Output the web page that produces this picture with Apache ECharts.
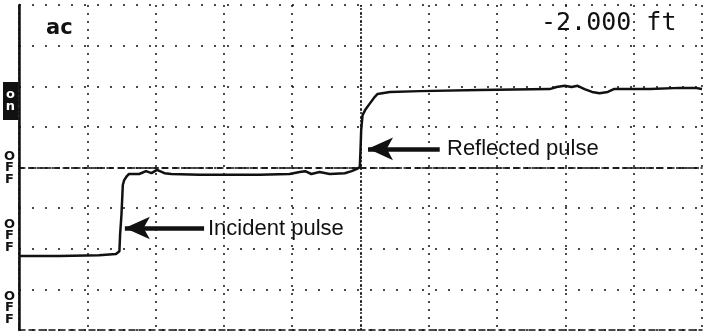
<!DOCTYPE html>
<html>
<head>
<meta charset="utf-8">
<script src="https://cdn.jsdelivr.net/npm/echarts@6/dist/echarts.min.js"></script>
<style>
  html, body { margin: 0; padding: 0; background: #fff; }
  #chart { width: 706px; height: 331px; }
</style>
</head>
<body>
<div id="chart"></div>
<script>
// ============================================================================
// Data (screen divisions: 10 across, 8 high, 0 at the centre line)
// ============================================================================

const traceX = [0, 0.59, 1.17, 1.42, 1.47, 1.48, 1.50, 1.51, 1.52, 1.54, 1.58,
    1.61, 1.76, 1.86, 1.94, 2.02, 2.13, 2.23, 2.64, 3.52, 3.96, 4.11, 4.19, 4.28,
    4.40, 4.55, 4.77, 4.87, 4.94, 4.99, 5.00, 5.01, 5.03, 5.07, 5.13, 5.21, 5.25,
    5.43, 5.87, 6.74, 7.77, 7.87, 7.99, 8.09, 8.18, 8.28, 8.39, 8.50, 8.62, 8.71,
    9.24, 9.68, 9.90, 10]
const traceY = [-2.18, -2.18, -2.16, -2.13, -2.06, -1.66, -1.17, -0.80, -0.43, -0.31, -0.21,
    -0.16, -0.16, -0.09, -0.14, -0.06, -0.14, -0.16, -0.18, -0.18, -0.16, -0.11, -0.09, -0.16,
    -0.11, -0.16, -0.14, -0.09, -0.04, 0.01, 0.43, 0.92, 1.29, 1.42, 1.56, 1.74, 1.81,
    1.86, 1.88, 1.91, 1.93, 1.98, 2.01, 1.98, 2.01, 1.93, 1.86, 1.83, 1.86, 1.93,
    1.93, 1.96, 1.96, 1.93]

const arrowLabels = ['Incident pulse', 'Reflected pulse']
const arrowTips = [[1.55, -1.49], [5.11, 0.46]]
const arrowTails = [[2.71, -1.49], [6.16, 0.46]]

const modeLabel = 'ac'
const distanceLabel = '-2.000 ft'
const channelLabels = ['o\nn', 'O\nF\nF', 'O\nF\nF', 'O\nF\nF']

// ============================================================================
// Helpers
// ============================================================================

const ink = '#111'

function _hiddenAxis(extra) {
    return {
        type: 'value',
        axisTick: {show: false},
        axisLabel: {show: false},
        splitLine: {show: false},
        ...extra,
    }
}

function _channelGraphics() {
    const out = [{
        type: 'rect',
        shape: {x: 3, y: 82, width: 15, height: 38},
        style: {fill: ink},
    }, {
        type: 'text', x: 10.5, y: 101,
        style: {text: channelLabels[0], fill: '#fff', font: 'bold 13px "DejaVu Sans"',
            lineHeight: 12, align: 'center', verticalAlign: 'middle'},
    }]
    const centres = [168, 236, 308]
    centres.forEach((c, i) => {
        out.push({
            type: 'text', x: 9.5, y: c,
            style: {text: channelLabels[i + 1], fill: ink, font: 'bold 13px "DejaVu Sans"',
                lineHeight: 11.5, align: 'center', verticalAlign: 'middle'},
        })
    })
    return out
}

// ============================================================================
// Render
// ============================================================================

function renderTrace() {
    const chart = echarts.init(document.getElementById('chart'))
    const arrowLines = arrowTips.map((tip, i) => [
        {coord: arrowTails[i], symbol: 'none'},
        {coord: tip, symbol: 'arrow', symbolSize: [17, 25]},
    ])
    const option = {
        animation: false,
        backgroundColor: '#fff',
        grid: {left: 19, right: 4, top: 5, bottom: 1},
        xAxis: [
            _hiddenAxis({
                min: 0, max: 10, interval: 1,
                axisLine: {onZero: false, lineStyle: {color: ink, width: 1.5, type: [6, 4]}},
                splitLine: {show: true, lineStyle: {color: ink, width: 1.5, type: [2, 6]}},
            }),
            _hiddenAxis({
                min: 0, max: 10, position: 'top',
                axisLine: {lineStyle: {color: ink, width: 1.5, type: [6, 5]}},
            }),
        ],
        yAxis: [
            _hiddenAxis({
                min: -4, max: 4, interval: 1,
                axisLine: {show: true, onZero: false, lineStyle: {color: ink, width: 2.5}},
                splitLine: {show: true, lineStyle: {color: ink, width: 1.5, type: [2, 11]}},
            }),
            _hiddenAxis({
                min: -4, max: 4, position: 'right',
                axisLine: {show: true, lineStyle: {color: ink, width: 1.5, type: [3, 2]}},
            }),
        ],
        series: [
            {
                type: 'line',
                data: traceX.map((x, i) => [x, traceY[i]]),
                showSymbol: false,
                lineStyle: {color: ink, width: 2.5},
                silent: true,
                markLine: {
                    silent: true,
                    symbol: 'none',
                    label: {show: false},
                    data: [
                        {xAxis: 5, lineStyle: {color: ink, width: 1.5, type: [2, 2]}},
                        {yAxis: 0, lineStyle: {color: ink, width: 1.5, type: [5, 4]}},
                    ],
                },
            },
            {
                type: 'line',
                data: [],
                markLine: {
                    silent: true,
                    label: {show: false},
                    lineStyle: {color: ink, width: 4.5, type: 'solid'},
                    data: arrowLines,
                },
            },
        ],
        graphic: [
            {type: 'text', x: 46, y: 29,
                style: {text: modeLabel, fill: ink, font: 'bold 21px "DejaVu Sans"', verticalAlign: 'middle'}},
            {type: 'text', x: 541, y: 23,
                style: {text: distanceLabel, fill: ink, font: '25px "DejaVu Sans Mono"', verticalAlign: 'middle'}},
            {type: 'text', x: 208, y: 229,
                style: {text: arrowLabels[0], fill: ink, font: '22px "Liberation Sans"', verticalAlign: 'middle'}},
            {type: 'text', x: 447, y: 149,
                style: {text: arrowLabels[1], fill: ink, font: '22px "Liberation Sans"', verticalAlign: 'middle'}},
            ..._channelGraphics(),
        ],
    }
    chart.setOption(option)
}

renderTrace()
</script>
</body>
</html>
